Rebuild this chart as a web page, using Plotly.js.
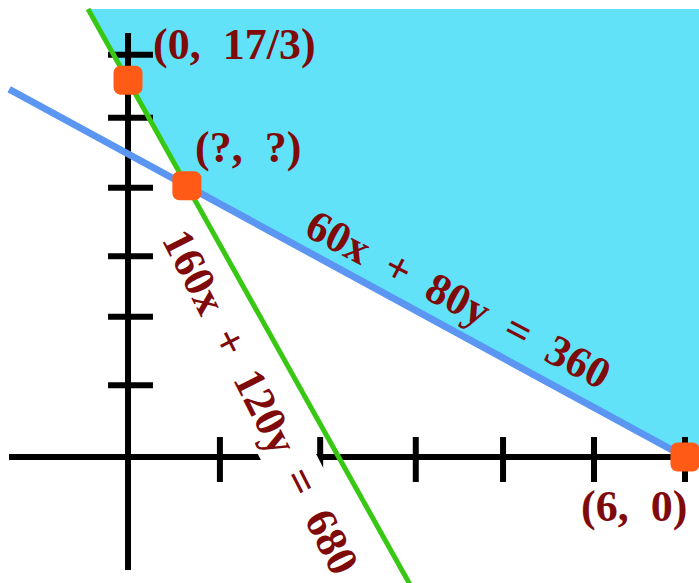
<!DOCTYPE html>
<html>
<head>
<meta charset="utf-8">
<script src="https://cdn.plot.ly/plotly-3.0.1.min.js"></script>
<style>
  html, body { margin: 0; padding: 0; background: #ffffff; }
  #chart { width: 699px; height: 583px; }
  /* round the corners of the square corner-point markers */
  #chart path.point { stroke-linejoin: round; }
</style>
</head>
<body>
<div id="chart"></div>
<script>
// Feasible region of the two constraints, sketched in tick units.
const xTicks = [0.99, 2.07, 3.10, 4.04, 5.02, 6.00];
const yTicks = [1.08, 2.11, 3.02, 4.05, 5.10, 6.05];

// 60x + 80y = 360 (blue) and 160x + 120y = 680 (green), end to end as sketched
const blueX = [-1.28, 6.0];
const blueY = [5.53, 0.0];
const greenX = [-0.431, 3.05];
const greenY = [6.737, -1.95];

// Corner points of the region and their labels
const cornerX = [0, 0.634, 6];
const cornerY = [17 / 3, 4.078, 0];
const cornerLabels = ["(0,\u00a0 17/3)", "(?,\u00a0 ?)", "(6,\u00a0 0)"];

// Shaded region lying above both lines
const regionX = [-0.431, 0.634, 6.0, 6.16, 6.16];
const regionY = [6.737, 4.078, 0.0, 0.1, 6.737];

const lineLabels = ["60x\u00a0 +\u00a0 80y\u00a0 =\u00a0 360", "160x\u00a0 +\u00a0 120y\u00a0 =\u00a0 680"];

// Extent of the drawn axes
const xAxisSpan = [-1.282, 6.3];
const yAxisSpan = [-1.70, 6.376];

const INK = "#000000";
const LABEL = "#7f0a0a";
const POINT = "#ff5b17";
const serif = "Liberation Serif, Times New Roman, serif";

// tick segments, separated by gaps
const xtX = [], xtY = [];
xTicks.forEach(t => { xtX.push(t, t, null); xtY.push(-0.376, 0.30, null); });
const ytX = [], ytY = [];
yTicks.forEach(t => { ytX.push(-0.215, 0.269, null); ytY.push(t, t, null); });

const traces = [
  { x: regionX, y: regionY, mode: "lines", fill: "toself",
    fillcolor: "#61e2f9", line: { width: 0, color: "#61e2f9" }, hoverinfo: "skip" },
  { x: xAxisSpan, y: [0, 0], mode: "lines", line: { color: INK, width: 6 }, hoverinfo: "skip" },
  { x: [0, 0], y: yAxisSpan, mode: "lines", line: { color: INK, width: 6 }, hoverinfo: "skip" },
  { x: xtX, y: xtY, mode: "lines", line: { color: INK, width: 6 }, hoverinfo: "skip" },
  { x: ytX, y: ytY, mode: "lines", line: { color: INK, width: 6 }, hoverinfo: "skip" },
  { x: blueX, y: blueY, mode: "lines", line: { color: "#5a96f2", width: 7 }, hoverinfo: "skip" },
  { x: greenX, y: greenY, mode: "lines", line: { color: "#38c814", width: 5 }, hoverinfo: "skip" },
  // corner points: squares with a thick same-colour outline give rounded corners
  { x: cornerX, y: cornerY, mode: "markers",
    marker: { symbol: "square", size: 15, color: POINT, line: { width: 14, color: POINT } },
    hoverinfo: "skip" }
];

const labelFont = { family: serif, size: 44, color: LABEL, weight: "bold" };

const annotations = [
  { x: cornerX[0], y: cornerY[0], text: cornerLabels[0], xanchor: "left", yanchor: "middle",
    xshift: 23, yshift: 36, showarrow: false, font: labelFont },
  { x: cornerX[1], y: cornerY[1], text: cornerLabels[1], xanchor: "left", yanchor: "middle",
    xshift: 6, yshift: 38, showarrow: false, font: labelFont },
  { x: cornerX[2], y: cornerY[2], text: cornerLabels[2], xanchor: "right", yanchor: "middle",
    xshift: 4, yshift: -50, showarrow: false, font: labelFont },
  { x: 3.555, y: 2.361, text: lineLabels[0], xanchor: "center", yanchor: "middle",
    textangle: 27.5, showarrow: false, font: labelFont },
  { x: 1.421, y: 0.827, text: lineLabels[1], xanchor: "center", yanchor: "middle",
    textangle: 63, showarrow: false, font: labelFont, bgcolor: "#ffffff", borderpad: 1 }
];

const layout = {
  width: 699, height: 583,
  margin: { l: 0, r: 0, t: 0, b: 0, pad: 0 },
  paper_bgcolor: "#ffffff", plot_bgcolor: "#ffffff",
  showlegend: false,
  xaxis: { range: [-1.379, 6.151], visible: false, fixedrange: true },
  yaxis: { range: [-1.895, 6.872], visible: false, fixedrange: true },
  annotations: annotations
};

Plotly.newPlot("chart", traces, layout, { staticPlot: true, displayModeBar: false });
</script>
</body>
</html>
